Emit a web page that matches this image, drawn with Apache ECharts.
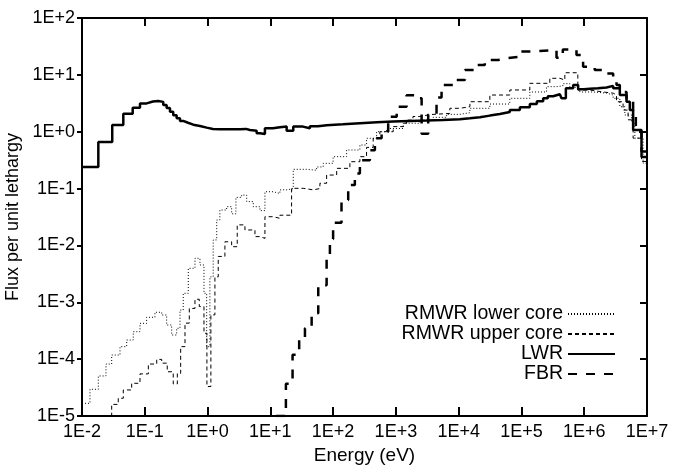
<!DOCTYPE html>
<html>
<head>
<meta charset="utf-8">
<script src="https://cdn.jsdelivr.net/npm/echarts@6/dist/echarts.min.js"></script>
<style>
html,body{margin:0;padding:0;background:#fff;}
#chart{width:680px;height:468px;}
</style>
</head>
<body>
<div id="chart"></div>
<script>
// Group boundaries (eV) and flux per unit lethargy for each group
const lowerE = [0.01,0.0134,0.0182,0.0241,0.0297,0.0403,0.0515,0.0656,0.0839,0.107,0.145,0.186,0.223,0.268,0.322,0.364,0.410,0.493,0.630,0.757,0.877,0.968,1.09,1.23,1.40,1.57,2.01,2.42,2.83,3.49,4.20,5.35,6.83,8.20,11.1,14.2,18.4,23.2,37.8,54.6,69.5,100,164,267,341,493,711,1310,2410,3930,6420,10400,15100,31400,65300,136000,251000,362000,456000,590000,851000,1390000,2270000,2890000,3690000,4430000,5660000,6400000,8670000,1e7];
const lowerF = [1.67e-5,2.95e-5,5.06e-5,8.2e-5,1.18e-4,1.66e-4,2.17e-4,3.04e-4,4.26e-4,5.44e-4,6.67e-4,5.98e-4,3.99e-4,2.66e-4,3.49e-4,7.3e-4,1.44e-3,3.96e-3,5.94e-3,4.53e-3,1.44e-3,1.66e-4,2.8e-3,1.25e-2,2.8e-2,4.2e-2,4.8e-2,3.6e-2,7.0e-2,7.7e-2,5.9e-2,4.8e-2,4.1e-2,8.8e-2,8.2e-2,9.5e-2,0.10,0.218,0.21,0.24,0.278,0.364,0.477,0.584,0.766,1.0,1.14,1.41,1.61,1.79,2.02,2.16,2.58,3.07,3.87,5.0,6.2,6.4,7.0,6.0,5.0,4.77,4.42,3.87,2.75,1.97,1.5,0.77,0.28];

const upperE = [0.0224,0.0297,0.0378,0.0455,0.0618,0.0839,0.114,0.155,0.186,0.228,0.284,0.330,0.373,0.437,0.512,0.630,0.738,0.877,0.977,1.13,1.31,1.48,1.89,2.42,2.97,3.94,5.69,6.83,8.20,11.1,14.2,21.8,33.4,48.2,61.6,78.8,114,185,267,341,435,556,906,1310,1480,1870,2410,3480,7240,10400,15100,31400,65300,136000,283000,409000,491000,791000,1230000,2000000,2890000,3270000,4160000,5000000,6010000,8180000,1e7];
const upperF = [1.0e-5,1.6e-5,2.05e-5,2.87e-5,3.76e-5,5.5e-5,8.2e-5,9.9e-5,8.5e-5,6.0e-5,3.66e-5,5.6e-5,1.66e-4,4.3e-4,7.8e-4,1.13e-3,8.4e-4,2.85e-4,3.3e-5,6e-4,2.8e-3,6.4e-3,1.16e-2,9.5e-3,2.3e-2,1.87e-2,1.43e-2,1.33e-2,3.2e-2,3.0e-2,3.4e-2,0.101,0.095,0.10,0.124,0.173,0.227,0.297,0.364,0.53,0.766,1.0,1.23,1.41,1.6,1.85,2.0,2.1,2.58,2.75,3.37,4.42,5.42,7.1,8.7,8.1,10.9,5.4,5.0,4.77,4.42,3.37,2.4,1.62,0.77,0.30];

const lwrE = [0.01,0.0182,0.0303,0.0455,0.0642,0.0839,0.107,0.135,0.164,0.197,0.223,0.252,0.284,0.322,0.364,0.410,0.488,0.592,0.757,0.968,1.22,1.57,2.27,3.28,4.09,4.73,6.05,6.83,8.20,11.0,14.2,18.2,23.2,33.0,42.7,57.3,78.8,143,267,498,906,1670,3080,5600,10400,15100,21800,31400,45300,65300,94400,136000,176000,222000,263000,320000,409000,435000,510000,666000,800000,986000,1230000,1650000,2270000,2890000,3690000,4720000,5330000,6010000,8180000,1e7];
const lwrF = [0.24,0.66,1.31,2.07,2.65,3.15,3.40,3.47,3.35,2.95,2.60,2.25,1.95,1.72,1.55,1.44,1.33,1.26,1.18,1.12,1.10,1.10,1.11,1.12,1.07,1.04,0.94,0.91,1.15,1.20,1.23,1.04,1.23,1.15,1.25,1.30,1.35,1.41,1.47,1.51,1.54,1.57,1.61,1.66,1.72,1.79,1.92,2.05,2.22,2.41,2.70,3.07,3.45,3.87,4.2,4.55,4.75,3.87,5.8,6.6,5.6,5.7,5.8,6.0,6.4,5.8,4.42,3.37,2.41,1.07,0.36];

const fbrE = [12.3,17.7,22.6,28.8,35.6,45.5,58.0,78.8,88.9,100,136,174,222,267,385,463,592,754,1030,1480,2140,2570,3270,4440,5340,9270,12600,19300,26100,42600,57900,94400,145000,362000,456000,753000,960000,1470000,2270000,2890000,3270000,3690000,4720000,6010000,6640000,8180000,1e7];
const fbrF = [1.0e-5,3.7e-5,1.2e-4,2.2e-4,3.5e-4,6.4e-4,2.0e-3,5.9e-3,1.3e-2,2.5e-2,6.3e-2,0.116,0.185,0.316,0.47,0.77,1.0,1.83,2.75,4.4,3.87,0.92,2.0,4.0,6.6,8.1,12.2,14.9,18.2,19.6,20.9,25.7,27.3,20,28,22.3,13.9,12.2,10.6,9.3,6.6,5.0,3.4,2.2,1.0,0.45];

const seriesNames = ['RMWR lower core','RMWR upper core','LWR','FBR'];
const xTitle = 'Energy (eV)';
const yTitle = 'Flux per unit lethargy';

function hist(E, F) {
  return E.map((e, i) => [e, F[Math.min(i, F.length - 1)]]);
}
function expLabel(v) {
  const e = Math.round(Math.log10(v));
  return '1E' + (e >= 0 ? '+' : '-') + Math.abs(e);
}

const FONT = '"Liberation Sans", Arial, Helvetica, sans-serif';
const chart = echarts.init(document.getElementById('chart'), null, {renderer: 'canvas'});

const axisLine = {show: true, onZero: false, lineStyle: {color: '#000', width: 2}};
const option = {
  animation: false,
  backgroundColor: '#fff',
  textStyle: {fontFamily: FONT, color: '#000'},
  grid: {left: 82, right: 33, top: 18, bottom: 52, containLabel: false, outerBoundsMode: 'none'},
  legend: {
    data: seriesNames,
    orient: 'vertical',
    align: 'right',
    right: 59,
    top: 299,
    itemWidth: 47,
    itemHeight: 12,
    itemGap: 0,
    itemStyle: {opacity: 0, color: 'rgba(0,0,0,0)', borderColor: 'rgba(0,0,0,0)', borderWidth: 0},
    textStyle: {fontFamily: FONT, fontSize: 19.5, color: '#000'}
  },
  xAxis: [
    {
      type: 'log', logBase: 10, min: 0.01, max: 1e7, splitNumber: 9,
      name: xTitle, nameLocation: 'middle', nameGap: 27,
      nameTextStyle: {fontFamily: FONT, fontSize: 19, color: '#000'},
      axisLine: axisLine,
      axisTick: {show: true, inside: true, length: 9, lineStyle: {color: '#000', width: 2}},
      axisLabel: {formatter: expLabel, fontFamily: FONT, fontSize: 18, color: '#000', margin: 7, showMinLabel: true, showMaxLabel: true},
      splitLine: {show: false}, minorTick: {show: false}
    },
    {
      type: 'log', logBase: 10, min: 0.01, max: 1e7, splitNumber: 9, position: 'top',
      axisLine: axisLine,
      axisTick: {show: true, inside: true, length: 8, lineStyle: {color: '#000', width: 2}},
      axisLabel: {show: false}, splitLine: {show: false}
    }
  ],
  yAxis: [
    {
      type: 'log', logBase: 10, min: 1e-5, max: 100, splitNumber: 7,
      name: yTitle, nameLocation: 'middle', nameGap: 58,
      nameTextStyle: {fontFamily: FONT, fontSize: 18, color: '#000'},
      axisLine: axisLine,
      axisTick: {show: true, inside: false, length: 5, lineStyle: {color: '#000', width: 2}},
      axisLabel: {formatter: expLabel, fontFamily: FONT, fontSize: 18, color: '#000', margin: 7, showMinLabel: true, showMaxLabel: true},
      splitLine: {show: false}
    },
    {
      type: 'log', logBase: 10, min: 1e-5, max: 100, splitNumber: 7, position: 'right',
      axisLine: axisLine,
      axisTick: {show: true, inside: true, length: 7, lineStyle: {color: '#000', width: 2}},
      axisLabel: {show: false}, splitLine: {show: false}
    }
  ],
  series: [
    {name: seriesNames[0], type: 'line', step: 'end', symbol: 'none', clip: true,
     data: hist(lowerE, lowerF), itemStyle: {color: '#000'},
     lineStyle: {color: '#000', width: 1, type: [1, 2]}},
    {name: seriesNames[1], type: 'line', step: 'end', symbol: 'none', clip: true,
     data: hist(upperE, upperF), itemStyle: {color: '#000'},
     lineStyle: {color: '#000', width: 1, type: [4, 3]}},
    {name: seriesNames[2], type: 'line', step: 'end', symbol: 'none', clip: true,
     data: hist(lwrE, lwrF), itemStyle: {color: '#000'},
     lineStyle: {color: '#000', width: 2.5, type: 'solid'}},
    {name: seriesNames[3], type: 'line', step: 'end', symbol: 'none', clip: true,
     data: hist(fbrE, fbrF), itemStyle: {color: '#000'},
     lineStyle: {color: '#000', width: 2.5, type: [9, 9]}}
  ]
};
chart.setOption(option);
</script>
</body>
</html>
